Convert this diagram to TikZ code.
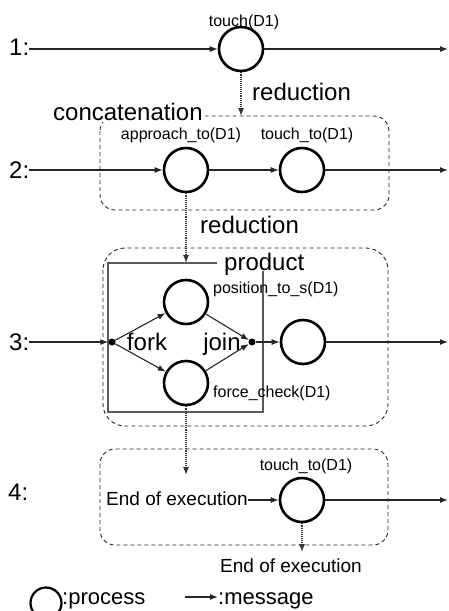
\documentclass[tikz,border=0pt]{standalone}
\usepackage{fontspec}
\setmainfont{Liberation Sans}
\usetikzlibrary{arrows.meta}
\begin{document}
\begin{tikzpicture}[x=1pt,y=-1pt,
  proc/.style={circle,draw,line width=2.6pt,minimum size=44pt,inner sep=0pt},
  jdot/.style={circle,fill,inner sep=0pt,minimum size=7pt},
  msg/.style={line width=1.1pt,draw=black!85,-{Latex[length=8pt,width=6pt]}},
  reduce/.style={densely dotted,line width=1.1pt,draw=black!80,-{Latex[length=8pt,width=6pt]}},
  group/.style={draw=black!85,dash pattern=on 4pt off 3pt,line width=0.9pt},
  big/.style={font=\fontsize{24}{28}\selectfont,inner sep=0pt,anchor=base west},
  small/.style={font=\fontsize{16}{19}\selectfont,inner sep=0pt,anchor=base},
  mid/.style={font=\fontsize{19}{22}\selectfont,inner sep=0pt},
]
\useasboundingbox (0,0) rectangle (449,611);

% ---------- grouping frames ----------
\draw[group,rounded corners=15pt] (100,116) rectangle (389,210);
\draw[group,rounded corners=22pt] (103,248) rectangle (388,426);
\draw[group,rounded corners=15pt] (100,449) rectangle (388,545);
\draw[black!65,line width=1.4pt] (217,263) -- (108,263) -- (108,412) -- (263,412) -- (263,271);

% ---------- row 1 ----------
\node[big] (l1) at (9,55) {1:};
\node[proc] (c1) at (241,49) {};
\node[small] (t1) at (244,26) {touch(D1)};
\coordinate (e1) at (448,49);
\draw[msg] (l1.east |- c1) -- (c1);
\draw[msg] (c1) -- (e1);
\coordinate (r1) at (241,116);
\draw[reduce] (c1) -- (r1);
\node[big] (rd1) at (252,100) {reduction};
\node[big,fill=white,inner sep=2pt] (cc) at (51,120) {concatenation};

% ---------- row 2 ----------
\node[big] (l2) at (9,178.5) {2:};
\node[proc] (c2a) at (186,170) {};
\node[proc] (c2b) at (302,170) {};
\node[small] (t2a) at (181,139) {approach\_to(D1)};
\node[small] (t2b) at (307,139) {touch\_to(D1)};
\coordinate (e2) at (448,170);
\draw[msg] (l2.east |- c2a) -- (c2a);
\draw[msg] (c2a) -- (c2b);
\draw[msg] (c2b) -- (e2);
\coordinate (r2) at (186,263);
\draw[reduce] (c2a) -- (r2);
\node[big] (rd2) at (200,233) {reduction};

% ---------- row 3 ----------
\node[big] (pr) at (224,270) {product};
\node[big] (l3) at (9,350) {3:};
\node[jdot] (fk) at (112,342) {};
\node[jdot] (jn) at (252,342) {};
\node[proc] (c3a) at (186,302) {};
\node[proc] (c3b) at (186,383) {};
\node[proc] (c3c) at (303,342) {};
\node[big,anchor=base] (fkl) at (147,350) {fork};
\node[big,anchor=base] (jnl) at (222,350) {join};
\node[small,anchor=base west] (t3a) at (213,293) {position\_to\_s(D1)};
\node[small,anchor=base west] (t3b) at (213,397) {force\_check(D1)};
\coordinate (e3) at (448,342);
\draw[msg] (l3.east |- fk) -- (fk);
\draw[msg] (fk) -- (c3a);
\draw[msg] (fk) -- (c3b);
\draw[msg] (c3a) -- (jn);
\draw[msg] (c3b) -- (jn);
\draw[msg] (jn) -- (c3c);
\draw[msg] (c3c) -- (e3);
\coordinate (r3) at (186,475);
\draw[reduce] (c3b) -- (r3);

% ---------- row 4 ----------
\node[big] (l4) at (8,500) {4:};
\node[proc] (c4) at (302,500) {};
\node[small] (t4) at (306,470) {touch\_to(D1)};
\node[mid,anchor=base west] (ee1) at (106,505) {End of execution};
\coordinate (e4) at (448,500);
\draw[msg] (ee1.east |- c4) -- (c4);
\draw[msg] (c4) -- (e4);
\coordinate (r4) at (302,552);
\draw[reduce] (c4) -- (r4);
\node[mid,anchor=base] (ee2) at (291,572) {End of execution};

% ---------- legend ----------
\node[circle,draw,line width=2.2pt,minimum size=31pt,inner sep=0pt] (lc) at (46,603) {};
\node[font=\fontsize{22}{26}\selectfont,inner sep=0pt,anchor=base west] (lp) at (62,604) {:process};
\coordinate (la) at (185,597);
\node[font=\fontsize{22}{26}\selectfont,inner sep=0pt,anchor=base west] (lm) at (218,604) {:message};
\draw[msg] (la) -- (lm.west |- la);
\end{tikzpicture}
\end{document}
